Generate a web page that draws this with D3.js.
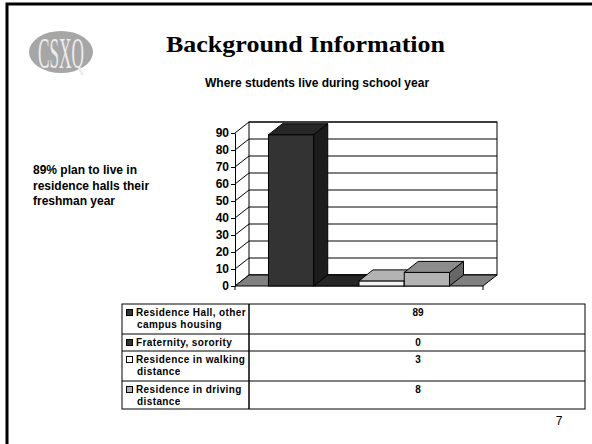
<!DOCTYPE html>
<html>
<head>
<meta charset="utf-8">
<script src="https://cdn.jsdelivr.net/npm/d3@7"></script>
<style>
  body { margin: 0; background: #fff; }
  svg { display: block; }
  text { font-family: "Liberation Sans", Arial, sans-serif; }
</style>
</head>
<body>
<svg id="chart"></svg>
<script>
// data
const categories = [""];
const seriesNames = [
  ["Residence Hall, other", "campus housing"],
  ["Fraternity, sorority"],
  ["Residence in walking", "distance"],
  ["Residence in driving", "distance"]
];
const seriesValues = [89, 0, 3, 8];
const yTicks = [0, 10, 20, 30, 40, 50, 60, 70, 80, 90];
const noteLines = ["89% plan to live in", "residence halls their", "freshman year"];

// fill colours per series: front, top, side
const faceColors = [
  ["#333333", "#262626", "#1c1c1c"],
  ["#333333", "#262626", "#1c1c1c"],
  ["#f2f2f2", "#b3b3b3", "#8c8c8c"],
  ["#b3b3b3", "#8c8c8c", "#666666"]
];
const swatchColors = ["#333333", "#333333", "#ffffff", "#b3b3b3"];

const W = 592, H = 444;
const svg = d3.select("#chart").attr("width", W).attr("height", H);

// slide frame (left + top only visible)
svg.append("path")
  .attr("d", "M7,444 V4 H592")
  .attr("fill", "none")
  .attr("stroke", "#000")
  .attr("stroke-width", 3);

// logo
const logo = svg.append("g");
logo.append("ellipse")
  .attr("cx", 61).attr("cy", 52).attr("rx", 32).attr("ry", 21)
  .attr("fill", "#a6a6a6");
logo.append("text")
  .attr("x", 61).attr("y", 68)
  .attr("text-anchor", "middle")
  .attr("textLength", 46).attr("lengthAdjust", "spacingAndGlyphs")
  .style("font-family", "'Liberation Serif', 'Times New Roman', serif")
  .style("font-size", "44px")
  .style("fill", "#ececec")
  .text("CSXQ");

// titles
svg.append("text")
  .attr("x", 166).attr("y", 52)
  .style("font-family", "'Liberation Serif', 'Times New Roman', serif")
  .style("font-weight", "bold")
  .style("font-size", "24px")
  .attr("textLength", 279).attr("lengthAdjust", "spacingAndGlyphs")
  .text("Background Information");

svg.append("text")
  .attr("x", 205).attr("y", 87)
  .style("font-weight", "bold")
  .style("font-size", "12px")
  .text("Where students live during school year");

svg.append("g").selectAll("text")
  .data(noteLines)
  .join("text")
  .attr("x", 33)
  .attr("y", (d, i) => 174 + i * 15.5)
  .style("font-weight", "bold")
  .style("font-size", "12px")
  .text(d => d);

// 3D chart geometry
const dx = 14, dy = 11;
const x0 = 235, x1 = 483, yBase = 286, yTop = 133;

const y = d3.scaleLinear().domain([0, 90]).range([yBase, yTop]);
const xCat = d3.scaleBand().domain(categories).range([x0, x1]).paddingOuter(0.185);
const xSer = d3.scaleBand().domain(d3.range(seriesValues.length)).range([0, xCat.bandwidth()]);

const chart = svg.append("g");

// back wall
chart.append("rect")
  .attr("x", x0 + dx).attr("y", y(90) - dy)
  .attr("width", x1 - x0).attr("height", y(0) - y(90))
  .attr("fill", "#fff").attr("stroke", "#000").attr("stroke-width", 1);

// gridlines: back wall horizontals + side wall diagonals
chart.append("g").selectAll("path")
  .data(yTicks)
  .join("path")
  .attr("d", d => `M${x0},${y(d)} L${x0 + dx},${y(d) - dy} L${x1 + dx},${y(d) - dy}`)
  .attr("fill", "none").attr("stroke", "#000").attr("stroke-width", 1);

// floor
chart.append("path")
  .attr("d", `M${x0},${y(0)} L${x1},${y(0)} L${x1 + dx},${y(0) - dy} L${x0 + dx},${y(0) - dy} Z`)
  .attr("fill", "#808080").attr("stroke", "#000").attr("stroke-width", 1);

// bars, left to right so later fronts cover earlier sides
const bars = chart.append("g");
seriesValues.forEach((v, i) => {
  const bx = xCat(categories[0]) + xSer(i);
  const bw = xSer.bandwidth();
  const yt = y(v), yb = y(0);
  const [cf, ct, cs] = faceColors[i];
  const g = bars.append("g").attr("stroke", "#000").attr("stroke-width", 1);
  if (v > 0) {
    g.append("rect").attr("x", bx).attr("y", yt).attr("width", bw).attr("height", yb - yt).attr("fill", cf);
    g.append("path")
      .attr("d", `M${bx + bw},${yt} L${bx + bw + dx},${yt - dy} L${bx + bw + dx},${yb - dy} L${bx + bw},${yb} Z`)
      .attr("fill", cs);
  }
  g.append("path")
    .attr("d", `M${bx},${yt} L${bx + dx},${yt - dy} L${bx + bw + dx},${yt - dy} L${bx + bw},${yt} Z`)
    .attr("fill", ct);
});

// value axis
const yAxis = d3.axisLeft(y).tickValues(yTicks).tickSize(4).tickSizeOuter(0);
const ya = chart.append("g").attr("transform", `translate(${x0},0)`).call(yAxis);
ya.select(".domain").attr("stroke", "#000");
ya.selectAll("line").attr("stroke", "#000");
ya.selectAll("text")
  .attr("x", -6)
  .style("font-family", "'Liberation Sans', Arial, sans-serif")
  .style("font-weight", "bold")
  .style("font-size", "12px")
  .attr("fill", "#000");

// category axis front edge ticks
chart.append("g").selectAll("line")
  .data([x0, x1])
  .join("line")
  .attr("x1", d => d).attr("x2", d => d)
  .attr("y1", y(0)).attr("y2", y(0) + 4)
  .attr("stroke", "#000");

// data table
const tLeft = 122, tDiv = 249, tRight = 585;
const rowEdges = [304, 334, 351, 381, 409];
const table = svg.append("g");

table.append("rect")
  .attr("x", tLeft).attr("y", rowEdges[0])
  .attr("width", tRight - tLeft).attr("height", rowEdges[4] - rowEdges[0])
  .attr("fill", "none").attr("stroke", "#000").attr("stroke-width", 1);
table.append("line")
  .attr("x1", tDiv).attr("x2", tDiv)
  .attr("y1", rowEdges[0]).attr("y2", rowEdges[4])
  .attr("stroke", "#000").attr("stroke-width", 1.5);
table.append("g").selectAll("line")
  .data(rowEdges.slice(1, 4))
  .join("line")
  .attr("x1", tLeft).attr("x2", tRight)
  .attr("y1", d => d).attr("y2", d => d)
  .attr("stroke", "#000").attr("stroke-width", 1);

seriesNames.forEach((lines, i) => {
  const top = rowEdges[i];
  table.append("rect")
    .attr("x", 126.5).attr("y", top + 5.5).attr("width", 6).attr("height", 6)
    .attr("fill", swatchColors[i]).attr("stroke", "#000").attr("stroke-width", 1);
  lines.forEach((ln, j) => {
    table.append("text")
      .attr("x", j === 0 ? 136 : 137)
      .attr("y", top + 12 + j * 12)
      .style("font-weight", "bold")
      .style("font-size", "10px")
      .style("letter-spacing", "0.4px")
      .text(ln);
  });
  table.append("text")
    .attr("x", 418).attr("y", top + 12)
    .attr("text-anchor", "middle")
    .style("font-weight", "bold")
    .style("font-size", "10px")
    .text(seriesValues[i]);
});

// slide number
svg.append("text")
  .attr("x", 559).attr("y", 425)
  .attr("text-anchor", "middle")
  .style("font-size", "12px")
  .text("7");
</script>
</body>
</html>
